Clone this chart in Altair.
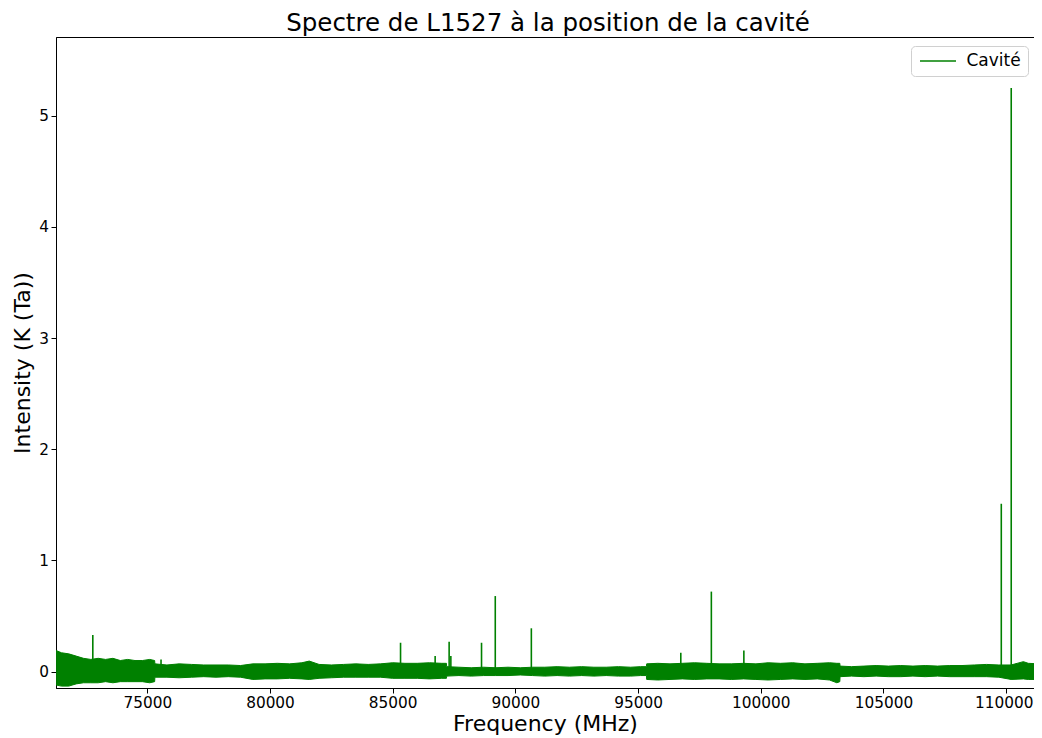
import altair as alt
import pandas as pd

# Noise envelope of the spectrum
band_freq = [71290, 71500, 71800, 72100, 72400, 72700, 73000, 73300, 73600, 73900,
             74200, 74500, 74800, 75100, 75300, 75310, 75800, 76300, 76800, 77300,
             77800, 78300, 78800, 79300, 79800, 80300, 80800, 81300, 81600, 82000,
             82500, 83000, 83500, 84000, 84500, 85000, 85500, 86000, 86500, 87000,
             87190, 87200, 87700, 88200, 88700, 89200, 89700, 90200, 90700, 91200,
             91700, 92200, 92700, 93200, 93700, 94200, 94700, 95100, 95340, 95350,
             95800, 96300, 96800, 97300, 97800, 98300, 98800, 99300, 99800, 100300,
             100800, 101300, 101800, 102300, 102800, 103100, 103220, 103230, 103700, 104200,
             104700, 105200, 105700, 106200, 106700, 107200, 107700, 108200, 108700, 109200,
             109700, 110200, 110700, 110900, 111330]
band_upper = [0.19, 0.17, 0.16, 0.14, 0.12, 0.11, 0.12, 0.11, 0.12, 0.10,
              0.11, 0.10, 0.10, 0.11, 0.10, 0.07, 0.06, 0.07, 0.065, 0.06,
              0.06, 0.06, 0.055, 0.07, 0.07, 0.075, 0.07, 0.08, 0.095, 0.065,
              0.06, 0.065, 0.07, 0.065, 0.07, 0.08, 0.075, 0.075, 0.08, 0.075,
              0.075, 0.045, 0.04, 0.035, 0.04, 0.035, 0.04, 0.035, 0.04, 0.04,
              0.045, 0.04, 0.045, 0.04, 0.04, 0.045, 0.04, 0.045, 0.045, 0.07,
              0.075, 0.07, 0.075, 0.08, 0.075, 0.07, 0.07, 0.075, 0.07, 0.08,
              0.075, 0.08, 0.07, 0.075, 0.08, 0.075, 0.075, 0.05, 0.045, 0.05,
              0.055, 0.05, 0.055, 0.05, 0.055, 0.05, 0.055, 0.055, 0.06, 0.065,
              0.06, 0.06, 0.09, 0.075, 0.07]
band_lower = [-0.12, -0.13, -0.13, -0.11, -0.10, -0.10, -0.10, -0.09, -0.10, -0.09,
              -0.09, -0.09, -0.09, -0.10, -0.09, -0.05, -0.05, -0.055, -0.05, -0.045,
              -0.05, -0.045, -0.05, -0.07, -0.065, -0.065, -0.06, -0.065, -0.07, -0.06,
              -0.055, -0.05, -0.05, -0.05, -0.05, -0.06, -0.06, -0.06, -0.065, -0.06,
              -0.06, -0.04, -0.035, -0.04, -0.035, -0.035, -0.035, -0.03, -0.035, -0.04,
              -0.035, -0.04, -0.035, -0.04, -0.035, -0.04, -0.04, -0.035, -0.035, -0.07,
              -0.075, -0.07, -0.065, -0.07, -0.065, -0.065, -0.07, -0.065, -0.07, -0.075,
              -0.07, -0.065, -0.07, -0.065, -0.075, -0.10, -0.09, -0.045, -0.04, -0.045,
              -0.04, -0.045, -0.045, -0.04, -0.045, -0.04, -0.045, -0.045, -0.045, -0.045,
              -0.05, -0.07, -0.065, -0.07, -0.07]

# Emission lines (frequency in MHz, peak intensity in K)
line_freq = [72780, 75560, 85320, 86730, 87300, 87370, 88620, 89180, 90650,
             96740, 97985, 99310, 109800, 110205]
line_peak = [0.33, 0.11, 0.26, 0.14, 0.27, 0.14, 0.26, 0.68, 0.39,
             0.17, 0.72, 0.19, 1.51, 5.25]

x_ticks = [75000, 80000, 85000, 90000, 95000, 100000, 105000, 110000]
y_ticks = [0, 1, 2, 3, 4, 5]

GREEN = "#008000"
FONT = "DejaVu Sans"

band = pd.DataFrame({"freq": band_freq, "upper": band_upper, "lower": band_lower})
lines = pd.DataFrame({
    "freq": line_freq,
    "peak": line_peak,
    "base": [0.0] * len(line_freq),
    "series": ["Cavité"] * len(line_freq),
})

xscale = alt.Scale(domain=[71280, 111133], nice=False, zero=False)
yscale = alt.Scale(domain=[-0.147, 5.708], nice=False, zero=False)

xaxis = alt.Axis(title="Frequency (MHz)", values=x_ticks, format="d", grid=False,
                 labelFlush=False, labelOverlap=False,
                 labelOffset={"condition": {"test": "datum.value == 110000", "value": -2.5},
                              "value": 0},
                 titleBaseline="alphabetic", titleY=42)
yaxis = alt.Axis(title="Intensity (K (Ta))", values=y_ticks, format="d", grid=False,
                 titleBaseline="alphabetic", titleX=-27)

area = alt.Chart(band).mark_area(color=GREEN, stroke=GREEN, strokeWidth=1,
                                 opacity=1, clip=True).encode(
    x=alt.X("freq:Q", scale=xscale, axis=xaxis),
    y=alt.Y("lower:Q", scale=yscale, axis=yaxis),
    y2="upper:Q",
)

rules = alt.Chart(lines).mark_rule(strokeWidth=1.6, clip=True).encode(
    x=alt.X("freq:Q", scale=xscale, axis=xaxis),
    y=alt.Y("base:Q", scale=yscale, axis=yaxis),
    y2="peak:Q",
    color=alt.Color("series:N",
                    scale=alt.Scale(domain=["Cavité"], range=[GREEN]),
                    legend=alt.Legend(title=None, orient="none",
                                      legendX=855, legendY=9,
                                      symbolType="M-3,0H3", symbolSize=144,
                                      symbolOffset=12,
                                      symbolStrokeWidth=1.5, labelFontSize=17,
                                      labelFont=FONT, labelColor="black",
                                      labelOffset=20, padding=6.5,
                                      strokeColor="#d0d0d0", fillColor="white",
                                      cornerRadius=4)),
)

chart = alt.layer(area, rules).properties(
    width=978,
    height=651,
    autosize=alt.AutoSizeParams(type="none"),
    padding={"left": 48, "top": 29, "right": 0, "bottom": 48},
    title=alt.TitleParams("Spectre de L1527 à la position de la cavité",
                          fontSize=24.5, font=FONT, fontWeight="normal",
                          color="black", anchor="middle", offset=1, dx=3),
).configure_view(
    stroke="black", strokeWidth=1
).configure_axis(
    labelFont=FONT, labelFontSize=15.3, labelColor="black",
    titleFont=FONT, titleFontSize=22, titleFontWeight="normal", titleColor="black",
    domainColor="black", tickColor="black", tickSize=5, tickWidth=1,
    labelPadding=2.5,
)

chart.save("out.html", embed_options={"renderer": "svg", "actions": False})
